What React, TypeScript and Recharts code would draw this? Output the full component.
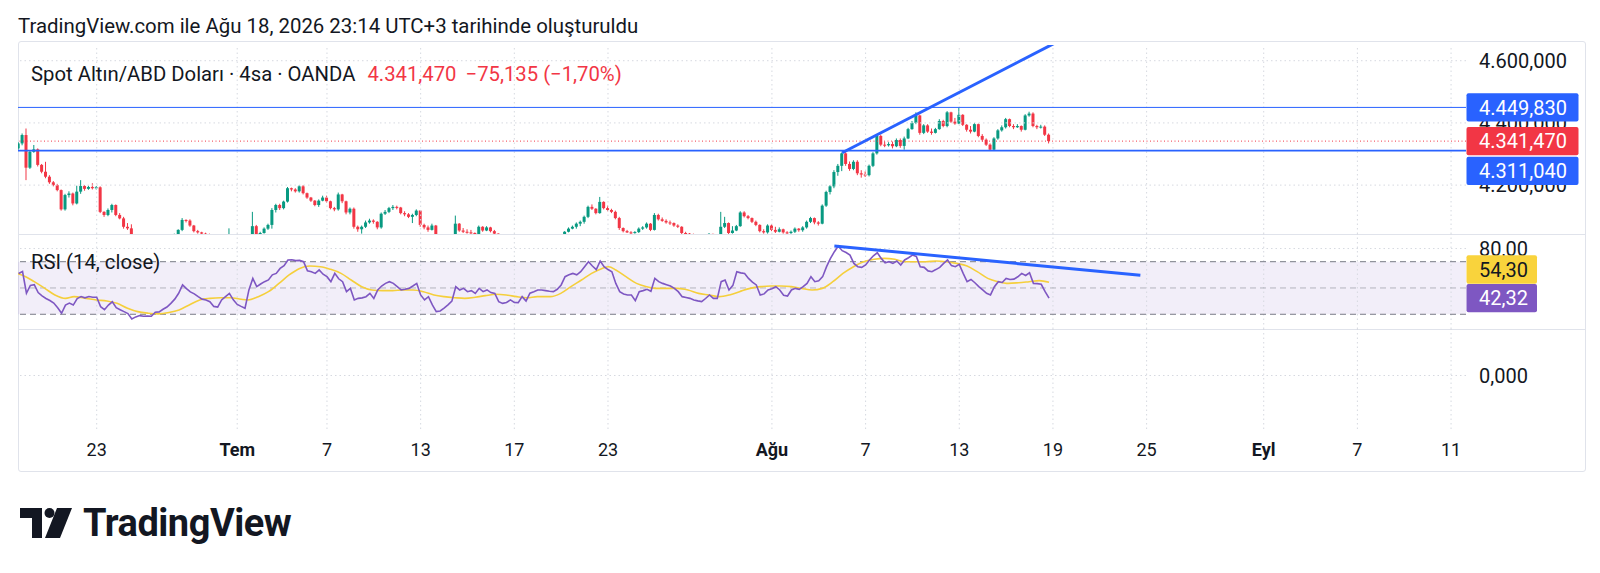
import React from 'react';
import { ComposedChart, Bar, Line, XAxis, YAxis, ReferenceLine, ReferenceArea } from 'recharts';

// ---------- DATA ----------
// candle index 0 = first 4h candle of Jun 23 (6 candles per trading day)
const FIRST_IDX = -20;
const FIRST_OPEN = 4318;
const CLOSE = [
  4334, 4361, 4256, 4307, 4315, 4265, 4243, 4227, 4209, 4200,
  4184, 4122, 4168, 4173, 4141, 4179, 4197, 4188, 4194, 4190,
  4193, 4114, 4104, 4120, 4136, 4104, 4093, 4066, 4061, 4030,
  4025, 4018, 4010, 4022, 4030, 4015, 4008, 4020, 4034, 4028,
  4040, 4056, 4088, 4086, 4070, 4052, 4048, 4044, 4042, 4030,
  4025, 4020, 4028, 4032, 4040, 4035, 4028, 4022, 4030, 4036,
  4068, 4042, 4046, 4060, 4072, 4120, 4136, 4126, 4147, 4190,
  4186, 4180, 4196, 4174, 4160, 4150, 4136, 4150, 4160, 4148,
  4126, 4122, 4170, 4148, 4112, 4124, 4066, 4058, 4066, 4080,
  4086, 4082, 4064, 4108, 4114, 4126, 4130, 4128, 4110, 4106,
  4098, 4104, 4118, 4072, 4064, 4056, 4070, 4040, 4030, 4024,
  4032, 4036, 4076, 4054, 4050, 4048, 4046, 4040, 4066, 4054,
  4064, 4052, 4044, 4035, 4028, 4020, 4012, 4018, 4010, 4004,
  3998, 4006, 4014, 4008, 4016, 4022, 4018, 4026, 4030, 4036,
  4050, 4060, 4066, 4076, 4082, 4098, 4130, 4124, 4110, 4146,
  4126, 4120, 4114, 4094, 4062, 4052, 4048, 4046, 4049, 4060,
  4064, 4076, 4056, 4104, 4090, 4085, 4080, 4078, 4070, 4066,
  4046, 4044, 4042, 4040, 4036, 4030, 4034, 4043, 4038, 4040,
  4066, 4078, 4046, 4054, 4068, 4112, 4100, 4094, 4082, 4072,
  4052, 4048, 4070, 4056, 4050, 4058, 4048, 4046, 4050, 4060,
  4055, 4064, 4082, 4094, 4080, 4076, 4134, 4178, 4196, 4242,
  4262, 4302, 4268, 4252, 4275, 4238, 4234, 4232, 4262, 4302,
  4358, 4330, 4328, 4332, 4325, 4345, 4326, 4350, 4380, 4400,
  4424, 4368, 4392, 4372, 4368, 4380, 4406, 4390, 4434, 4404,
  4398, 4426, 4394, 4378, 4372, 4396, 4358, 4346, 4330, 4314,
  4350, 4376, 4386, 4412, 4390, 4386, 4390, 4378, 4424, 4430,
  4390, 4386, 4388, 4362, 4341.47,
];
const HIGH = [
  4338, 4366, 4382, 4312, 4329, 4318, 4268, 4275, 4232, 4213,
  4204, 4186, 4172, 4180, 4176, 4198, 4216, 4200, 4198, 4206,
  4197, 4196, 4116, 4125, 4140, 4138, 4110, 4098, 4078, 4074,
  4036, 4030, 4024, 4028, 4036, 4034, 4020, 4026, 4038, 4040,
  4044, 4058, 4094, 4090, 4090, 4072, 4056, 4050, 4047, 4044,
  4034, 4028, 4032, 4036, 4061, 4042, 4038, 4030, 4034, 4040,
  4114, 4072, 4050, 4064, 4076, 4126, 4140, 4140, 4150, 4194,
  4192, 4190, 4200, 4200, 4176, 4162, 4152, 4154, 4166, 4166,
  4150, 4130, 4176, 4172, 4150, 4128, 4128, 4070, 4070, 4086,
  4092, 4090, 4084, 4112, 4120, 4130, 4136, 4134, 4130, 4116,
  4110, 4108, 4122, 4120, 4076, 4070, 4076, 4072, 4042, 4034,
  4038, 4040, 4102, 4078, 4062, 4058, 4056, 4048, 4070, 4068,
  4068, 4066, 4056, 4045, 4038, 4032, 4024, 4024, 4020, 4014,
  4008, 4010, 4018, 4016, 4020, 4026, 4026, 4030, 4036, 4040,
  4052, 4064, 4070, 4080, 4086, 4102, 4134, 4138, 4126, 4162,
  4148, 4134, 4124, 4118, 4098, 4064, 4056, 4052, 4052, 4064,
  4068, 4080, 4078, 4110, 4108, 4096, 4090, 4086, 4080, 4074,
  4068, 4050, 4046, 4044, 4042, 4038, 4038, 4046, 4044, 4042,
  4114, 4098, 4080, 4068, 4072, 4116, 4116, 4104, 4096, 4086,
  4074, 4058, 4074, 4074, 4066, 4064, 4060, 4052, 4054, 4064,
  4062, 4068, 4086, 4098, 4096, 4084, 4138, 4182, 4200, 4248,
  4268, 4305, 4306, 4276, 4280, 4280, 4248, 4244, 4266, 4306,
  4364, 4362, 4340, 4338, 4340, 4350, 4350, 4356, 4384, 4406,
  4434, 4426, 4396, 4396, 4382, 4384, 4412, 4410, 4438, 4436,
  4416, 4449.83, 4428, 4396, 4390, 4400, 4398, 4364, 4350, 4334,
  4354, 4380, 4392, 4416, 4414, 4396, 4396, 4392, 4428, 4436,
  4434, 4394, 4394, 4392, 4366,
];
const LOW = [
  4314, 4328, 4216, 4252, 4304, 4260, 4238, 4222, 4204, 4196,
  4180, 4118, 4118, 4160, 4135, 4138, 4172, 4182, 4185, 4186,
  4186, 4110, 4098, 4100, 4112, 4100, 4090, 4060, 4056, 4022,
  4018, 4010, 4004, 4006, 4018, 4010, 4002, 4004, 4016, 4022,
  4024, 4036, 4052, 4080, 4066, 4048, 4044, 4040, 4036, 4026,
  4020, 4014, 4016, 4024, 4030, 4030, 4024, 4016, 4018, 4026,
  4034, 4038, 4040, 4044, 4056, 4060, 4112, 4120, 4122, 4144,
  4180, 4176, 4176, 4170, 4156, 4146, 4132, 4130, 4148, 4144,
  4122, 4116, 4118, 4142, 4106, 4106, 4060, 4050, 4044, 4062,
  4076, 4076, 4058, 4060, 4104, 4110, 4120, 4122, 4106, 4100,
  4094, 4078, 4100, 4066, 4058, 4050, 4054, 4034, 4024, 4018,
  4020, 4028, 4030, 4050, 4046, 4044, 4042, 4034, 4038, 4050,
  4052, 4048, 4040, 4030, 4022, 4014, 4006, 4008, 4004, 3998,
  3990, 3994, 4002, 4004, 4006, 4012, 4014, 4016, 4024, 4028,
  4034, 4048, 4058, 4060, 4068, 4076, 4094, 4120, 4106, 4108,
  4122, 4116, 4110, 4090, 4056, 4048, 4046, 4042, 4044, 4046,
  4056, 4060, 4052, 4054, 4086, 4082, 4076, 4072, 4066, 4062,
  4042, 4040, 4038, 4034, 4030, 4026, 4028, 4032, 4034, 4034,
  4036, 4062, 4042, 4044, 4052, 4066, 4096, 4090, 4078, 4068,
  4048, 4044, 4044, 4052, 4046, 4048, 4044, 4042, 4043, 4046,
  4050, 4050, 4060, 4078, 4074, 4070, 4074, 4130, 4170, 4190,
  4230, 4245, 4262, 4246, 4248, 4232, 4224, 4226, 4228, 4258,
  4298, 4325, 4322, 4324, 4318, 4322, 4320, 4314, 4348, 4378,
  4396, 4362, 4364, 4368, 4362, 4366, 4378, 4386, 4386, 4400,
  4394, 4396, 4390, 4372, 4366, 4370, 4354, 4340, 4326, 4311.04,
  4312, 4346, 4372, 4382, 4386, 4380, 4384, 4372, 4376, 4420,
  4386, 4380, 4382, 4358, 4334,
];
const RSI = [
  61, 62.5, 46, 52, 52.5, 46.5, 44, 42, 40.5, 38.5,
  35, 30.8, 37, 38.5, 37, 42, 43.5, 42.5, 43.5, 43,
  43, 35.8, 33.5, 37, 39.5, 35, 33.5, 32, 30.5, 26.5,
  28, 29, 28.5, 28.7, 28.5, 31.5, 31.8, 33.8, 35.5, 38.3,
  41.5, 46, 52.3, 49.5, 47, 45.5, 43.4, 41.5, 40.9, 39.6,
  36, 35.5, 40.9, 43.4, 45.9, 41, 37.5, 36, 34.6, 48.5,
  57.3, 51, 53, 54.8, 56.1, 60, 61.1, 64.9, 67, 71.3,
  71.5, 70.8, 71, 70, 63, 62.4, 61.1, 63.7, 60.5, 58.6,
  54.8, 61.1, 57, 54.8, 47.2, 49.7, 40.9, 42.1, 42.5, 43.4,
  45.9, 42.1, 48.5, 51.5, 53.5, 54.8, 53.5, 51, 48.5, 49,
  49.7, 51.5, 53.5, 44.7, 40.9, 43.4, 37.1, 32, 32.5, 34.6,
  37.1, 40, 51, 48.5, 49.7, 47.2, 48, 45.9, 49.7, 47.2,
  48.5, 46.5, 45.9, 39.6, 38.3, 39, 40.9, 39, 38.9, 43.4,
  40, 46, 47.2, 48.5, 48.5, 48, 47.5, 47.2, 49, 52.3,
  58.6, 60, 61.1, 60, 62.4, 66.2, 70, 66.7, 64, 70.5,
  66.2, 64, 62.4, 53.5, 47.2, 45.5, 44.7, 44.7, 40.4, 47.2,
  48, 49, 47.5, 57.3, 54.8, 53.5, 52.5, 51.5, 49.7, 47.2,
  43.4, 42.8, 42.1, 40.9, 40.2, 39.6, 42, 44.7, 42.1, 42.1,
  54.8, 56, 48.5, 52, 62.4, 61.5, 61, 57.3, 54.5, 52.3,
  44.7, 45.5, 48.5, 49.5, 51, 48.5, 44.5, 43.9, 48.5, 49.7,
  49, 51, 53.5, 58.6, 54.8, 55.5, 58.6, 66.2, 72.5, 77.6,
  81.9, 78.4, 77, 75, 68.7, 66.2, 65.7, 67.5, 71.3, 74.5,
  76.8, 72.5, 69.2, 70, 68.7, 70.5, 67.5, 71.3, 73, 75,
  74, 66.2, 65.7, 63, 62.4, 64, 65.7, 68.7, 71.3, 67,
  66.2, 68, 61.1, 54.8, 56.5, 54, 51, 48.5, 46, 44.7,
  51, 54.8, 54.2, 57.3, 56.5, 56.7, 58.5, 61.1, 59.5, 61.6,
  53.5, 53.3, 52.8, 47.2, 42.32,
];
// RSI-based moving average (read at sample positions, candle index)
const MA_IDX = [
  -20.4, -18.2, -16, -13.3, -10.7, -8, -5.8, -2.7, -0.1, 2.6, 5.2, 7.9, 10.5, 13.2, 15.8, 18.5, 21.1, 23.7, 26.4, 29,
  31.7, 34.3, 37, 38.7, 41.4, 44, 46.7, 49.3, 52, 54.6, 57.3, 59.9, 62.6, 65.2, 67.9, 70.5, 73.2, 75.8, 78.5, 81.1,
  83.7, 86.4, 89, 91.7, 94.3, 97, 99.6, 102.3, 104.9, 107.6, 110.2, 112.9, 116.2, 118.9, 121.5, 124.2, 126.8, 129.5, 131.2, 133,
  135.6, 138.3, 140.9, 143.6, 146.2, 148.9, 151.5, 154.2, 156.8, 159.5, 162.1, 164.7, 167.4, 170.1, 172.7, 175.3, 178, 180.6, 183.3, 185.9,
  188.6, 191.2, 193.9, 196.5, 199.2, 201.8, 204.5, 207.1, 209.7, 212.4, 215, 217.7, 220.3, 223, 225.6, 228.3, 230.9, 233.6, 236.2, 238.9,
  241.5, 244,
];
const MA_VAL = [
  61.1, 58.6, 54.8, 49.7, 44.7, 42.1, 43.4, 42.1, 40.9, 40.1, 38.3, 34.6, 32, 30.8, 30.3, 31.3, 33.3, 37.1, 40.9, 42.1,
  42.6, 42.6, 41.4, 40.9, 43.4, 47.2, 53.5, 59.9, 64.9, 66.7, 66.2, 64.2, 61.1, 56.1, 51, 48.5, 48, 48, 48.5, 48.5,
  47.2, 44.7, 43.4, 42.6, 42.1, 42.9, 44.2, 45.2, 44.7, 43.4, 42.6, 43.4, 43.4, 45.9, 51, 56.1, 61.1, 64.9, 66.2, 63.7,
  58.6, 53.5, 51, 49.7, 49.7, 49.7, 48.5, 45.9, 44.7, 43.4, 44.7, 47.2, 49.7, 51, 51.5, 51.5, 51, 49.7, 48.5, 49.7,
  54.8, 61.1, 66.2, 70, 71.8, 72.5, 71.8, 70, 70, 70, 70.5, 70, 68.7, 66.7, 62.4, 57.3, 54.8, 53.5, 54, 54.8,
  55.6, 54.3,
];
// time axis: candle index of each labelled day
const TICK_IDX = [0, 36, 59, 83, 107, 131, 173, 197, 221, 245, 269, 299, 323, 347];
const TICK_LABELS = ['23', 'Tem', '7', '13', '17', '23', 'Ağu', '7', '13', '19', '25', 'Eyl', '7', '11'];
const MONTH_LABELS = ['Tem', 'Ağu', 'Eyl'];
const PRICE_TICKS = [4200, 4400, 4600];
const RSI_TICKS = [80];
const RESISTANCE = 4449.83;
const SUPPORT = 4311.04;
const LAST_PRICE = 4341.47;
const RSI_LAST = 42.32;
const RSI_MA_LAST = 54.3;
const PRICE_TREND = [{ x: 191, y: 4304 }, { x: 246, y: 4660 }];
const RSI_TREND = [{ x: 189, y: 82 }, { x: 267.4, y: 59.6 }];

// ---------- tables ----------
const candles = CLOSE.map((c, i) => ({
  idx: FIRST_IDX + i,
  o: i === 0 ? FIRST_OPEN : CLOSE[i - 1],
  h: HIGH[i],
  l: LOW[i],
  c,
}));
const rsiData = RSI.map((v, i) => ({ idx: FIRST_IDX + i, rsi: v }));
const maData = MA_IDX.map((x, i) => ({ idx: x, ma: MA_VAL[i] }));

// ---------- layout / style ----------
const X_DOMAIN: [number, number] = [-20.164, 350.83];
const PRICE_DOMAIN: [number, number] = [4042.8, 4650.5];
const RSI_DOMAIN: [number, number] = [18.8, 91.06];
const EMPTY_DOMAIN: [number, number] = [-1, 0.87];
const UP = '#089981';
const DOWN = '#f23645';
const BLUE = '#2962ff';
const TEXT = '#131722';
const GRID = '#d6d9e0';
const FONT = 'Roboto, "Noto Sans", sans-serif';
const MARGIN = { top: 0, right: 0, bottom: 0, left: 18 };
const AXIS_FONT = 20;

const trNum = (v: number, d: number) => {
  const [i, f] = Math.abs(v).toFixed(d).split('.');
  const ii = i.replace(/\B(?=(\d{3})+(?!\d))/g, '.');
  return (v < 0 ? '\u2212' : '') + ii + (f ? ',' + f : '');
};

const PRICE_BOXES: Record<string, { fill: string; color: string; dy: number }> = {
  [String(RESISTANCE)]: { fill: BLUE, color: '#ffffff', dy: 0 },
  [String(SUPPORT)]: { fill: BLUE, color: '#ffffff', dy: 20.3 },
  [String(LAST_PRICE)]: { fill: DOWN, color: '#ffffff', dy: 0 },
};
const RSI_BOXES: Record<string, { fill: string; color: string; dy: number }> = {
  [String(RSI_MA_LAST)]: { fill: '#f9d33c', color: TEXT, dy: -12.8 },
  [String(RSI_LAST)]: { fill: '#7e57c2', color: '#ffffff', dy: 0 },
};

const makeTick = (boxes: Record<string, { fill: string; color: string; dy: number }>, dec: number, boxW: number) => (props: any) => {
  const { x, y, payload } = props;
  const v = payload.value;
  const b = boxes[String(v)];
  if (b) {
    const cy = y + b.dy;
    return (
      <g>
        <rect x={x - 12.5} y={cy - 14.2} width={boxW} height={28.4} rx={2} fill={b.fill} />
        <text x={x} y={cy} dy="0.355em" fill={b.color} fontSize={AXIS_FONT} fontFamily={FONT}>{trNum(v, dec)}</text>
      </g>
    );
  }
  return <text x={x} y={y} dy="0.355em" fill={TEXT} fontSize={AXIS_FONT} fontFamily={FONT}>{trNum(v, dec)}</text>;
};
const PriceTick = makeTick(PRICE_BOXES, 3, 112);
const RsiTick = makeTick(RSI_BOXES, 2, 70.5);
const EmptyTick = makeTick({}, 3, 0);

const TimeTick = (props: any) => {
  const { x, y, payload } = props;
  const label = TICK_LABELS[TICK_IDX.indexOf(payload.value)] ?? '';
  const bold = MONTH_LABELS.includes(label);
  return (
    <text x={x} y={y} dy="0.355em" textAnchor="middle" fill={TEXT} fontSize={18} fontWeight={bold ? 700 : 400} fontFamily={FONT}>
      {label}
    </text>
  );
};

const WickShape = (p: any) => {
  const { x, y, width, height, payload } = p;
  if (x == null || y == null || !payload) return null;
  const top = Math.min(y, y + height);
  const h = Math.abs(height);
  const color = payload.c >= payload.o ? UP : DOWN;
  return <rect x={x + width / 2 - 0.5} y={top} width={1} height={Math.max(h, 0.6)} fill={color} />;
};
const BodyShape = (p: any) => {
  const { x, y, width, height, payload } = p;
  if (x == null || y == null || !payload) return null;
  const top = Math.min(y, y + height);
  const h = Math.abs(height);
  const color = payload.c >= payload.o ? UP : DOWN;
  return <rect x={x} y={top} width={width} height={Math.max(h, 1)} fill={color} />;
};

const vGrid = (axis?: string) =>
  TICK_IDX.map((t) => (
    <ReferenceLine key={'vg' + t} x={t} xAxisId={axis ?? 0} stroke={GRID} strokeDasharray="1.5 3" />
  ));

const PricePane = () => (
  <ComposedChart width={1600} height={189} data={candles} margin={MARGIN}>
    <XAxis dataKey="idx" type="number" domain={X_DOMAIN} allowDataOverflow hide />
    <XAxis xAxisId="b" dataKey="idx" type="number" domain={X_DOMAIN} allowDataOverflow hide />
    <YAxis
      orientation="right"
      width={134}
      type="number"
      domain={PRICE_DOMAIN}
      allowDataOverflow
      ticks={[...PRICE_TICKS, RESISTANCE, SUPPORT, LAST_PRICE]}
      interval={0}
      tickLine={false}
      axisLine={false}
      tickSize={0}
      tickMargin={13}
      tick={PriceTick}
    />
    {vGrid()}
    {PRICE_TICKS.map((v) => (
      <ReferenceLine key={'hg' + v} y={v} stroke={GRID} strokeDasharray="1.5 3" />
    ))}
    <Bar
      dataKey={(d: any) => (d.h < PRICE_DOMAIN[0] ? null : [d.l, d.h])}
      barSize={1}
      shape={WickShape}
      isAnimationActive={false}
    />
    <Bar
      xAxisId="b"
      dataKey={(d: any) => (Math.max(d.o, d.c) < PRICE_DOMAIN[0] ? null : [Math.min(d.o, d.c), Math.max(d.o, d.c)])}
      barSize={3}
      shape={BodyShape}
      isAnimationActive={false}
    />
    <ReferenceLine y={RESISTANCE} stroke={BLUE} strokeWidth={1} />
    <ReferenceLine y={SUPPORT} stroke={BLUE} strokeWidth={1.8} />
    <ReferenceLine y={LAST_PRICE} stroke={DOWN} strokeWidth={1} strokeDasharray="1 2.5" />
    <ReferenceLine segment={PRICE_TREND} stroke={BLUE} strokeWidth={3} ifOverflow="hidden" />
  </ComposedChart>
);

const RsiPane = () => (
  <ComposedChart width={1600} height={95} data={rsiData} margin={MARGIN}>
    <XAxis dataKey="idx" type="number" domain={X_DOMAIN} allowDataOverflow hide />
    <YAxis
      orientation="right"
      width={134}
      type="number"
      domain={RSI_DOMAIN}
      allowDataOverflow
      ticks={[...RSI_TICKS, RSI_MA_LAST, RSI_LAST]}
      interval={0}
      tickLine={false}
      axisLine={false}
      tickSize={0}
      tickMargin={13}
      tick={RsiTick}
    />
    <ReferenceArea y1={30} y2={70} fill="#7e57c2" fillOpacity={0.1} stroke="none" />
    {vGrid()}
    <ReferenceLine y={80} stroke={GRID} strokeDasharray="1.5 3" />
    <ReferenceLine y={70} stroke="#787b86" strokeDasharray="6 4" />
    <ReferenceLine y={50} stroke="#787b86" strokeOpacity={0.5} strokeDasharray="6 4" />
    <ReferenceLine y={30} stroke="#787b86" strokeDasharray="6 4" />
    <Line data={maData} dataKey="ma" type="monotone" stroke="#f5cf3c" strokeWidth={1.6} dot={false} activeDot={false} isAnimationActive={false} />
    <Line dataKey="rsi" type="linear" stroke="#7e57c2" strokeWidth={1.6} dot={false} activeDot={false} isAnimationActive={false} />
    <ReferenceLine segment={RSI_TREND} stroke={BLUE} strokeWidth={3} ifOverflow="hidden" />
  </ComposedChart>
);

const EmptyPane = () => (
  <ComposedChart width={1600} height={142} data={rsiData} margin={MARGIN}>
    <XAxis
      dataKey="idx"
      type="number"
      domain={X_DOMAIN}
      allowDataOverflow
      ticks={TICK_IDX}
      interval={0}
      height={42}
      tickLine={false}
      axisLine={false}
      tickSize={0}
      tickMargin={21}
      tick={TimeTick}
    />
    <YAxis
      orientation="right"
      width={134}
      type="number"
      domain={EMPTY_DOMAIN}
      allowDataOverflow
      ticks={[0]}
      interval={0}
      tickLine={false}
      axisLine={false}
      tickSize={0}
      tickMargin={13}
      tick={EmptyTick}
    />
    {vGrid()}
    <ReferenceLine y={0} stroke={GRID} strokeDasharray="1.5 3" />
  </ComposedChart>
);

const Logo = () => (
  <svg width={52} height={30} viewBox="0 0 52 30" style={{ position: 'absolute', left: 20, top: 508 }}>
    <path d="M0 0 H22 V30 H12 V10 H0 Z" fill={TEXT} />
    <circle cx={29.5} cy={5} r={5} fill={TEXT} />
    <path d="M37 0 H52 L40 30 H25 Z" fill={TEXT} />
  </svg>
);

export default function App() {
  return (
    <div style={{ position: 'absolute', left: 0, top: 0, width: 1600, height: 573, background: '#ffffff', overflow: 'hidden', fontFamily: FONT, color: TEXT }}>
      <div style={{ position: 'absolute', left: 18, top: 15, fontSize: 20.4, lineHeight: '23px', whiteSpace: 'nowrap' }}>
        TradingView.com ile Ağu 18, 2026 23:14 UTC+3 tarihinde oluşturuldu
      </div>
      {/* frame and pane separators */}
      <div style={{ position: 'absolute', left: 18, top: 41, width: 1566, height: 429, border: '1px solid #e0e3eb', borderRadius: 3 }} />
      <div style={{ position: 'absolute', left: 18, top: 234, width: 1567, height: 1, background: '#e0e3eb' }} />
      <div style={{ position: 'absolute', left: 18, top: 329, width: 1567, height: 1, background: '#e0e3eb' }} />
      <div style={{ position: 'absolute', left: 0, top: 45 }}><PricePane /></div>
      <div style={{ position: 'absolute', left: 0, top: 234 }}><RsiPane /></div>
      <div style={{ position: 'absolute', left: 0, top: 329 }}><EmptyPane /></div>
      <div style={{ position: 'absolute', left: 31, top: 61.5, fontSize: 20.3, lineHeight: '24px', whiteSpace: 'nowrap' }}>
        <span>Spot Altın/ABD Doları · 4sa · OANDA</span>
        <span style={{ color: DOWN, marginLeft: 12 }}>{trNum(LAST_PRICE, 3)}</span>
        <span style={{ color: DOWN, marginLeft: 9 }}>{'\u221275,135 (\u22121,70%)'}</span>
      </div>
      <div style={{ position: 'absolute', left: 31, top: 250, fontSize: 20.3, lineHeight: '24px', whiteSpace: 'nowrap' }}>
        RSI (14, close)
      </div>
      <Logo />
      <div style={{ position: 'absolute', left: 83, top: 503, fontSize: 38, fontWeight: 700, lineHeight: '40px', letterSpacing: -0.5, whiteSpace: 'nowrap' }}>
        TradingView
      </div>
    </div>
  );
}
